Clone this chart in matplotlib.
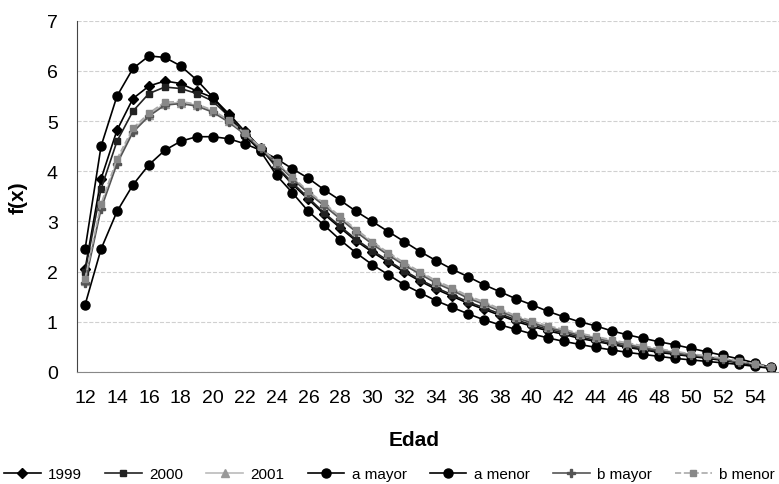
import matplotlib
matplotlib.use("Agg")
import matplotlib.pyplot as plt

plt.rcParams['font.family'] = ['Liberation Sans', 'DejaVu Sans']

edad = list(range(12, 56))
tick_labels = [str(e) for e in range(12, 56, 2)]

y1999 = [2.05, 3.85, 4.82, 5.45, 5.70, 5.80, 5.75, 5.60, 5.47, 5.15, 4.80, 4.47,
         4.08, 3.74, 3.44, 3.14, 2.87, 2.61, 2.39, 2.19, 1.99, 1.81, 1.65, 1.51,
         1.37, 1.25, 1.13, 1.01, 0.91, 0.82, 0.75, 0.67, 0.61, 0.55, 0.49, 0.44,
         0.39, 0.35, 0.31, 0.27, 0.23, 0.18, 0.13, 0.08]
y2000 = [2.00, 3.65, 4.60, 5.20, 5.55, 5.68, 5.65, 5.55, 5.40, 5.10, 4.78, 4.45,
         4.10, 3.77, 3.47, 3.17, 2.90, 2.64, 2.42, 2.22, 2.02, 1.84, 1.68, 1.54,
         1.40, 1.28, 1.16, 1.04, 0.94, 0.85, 0.78, 0.70, 0.63, 0.57, 0.51, 0.46,
         0.41, 0.37, 0.33, 0.29, 0.25, 0.20, 0.14, 0.08]
y2001 = [1.82, 3.30, 4.20, 4.82, 5.13, 5.35, 5.37, 5.32, 5.20, 5.00, 4.75, 4.47,
         4.17, 3.87, 3.58, 3.34, 3.08, 2.82, 2.58, 2.36, 2.16, 1.98, 1.80, 1.66,
         1.50, 1.38, 1.24, 1.10, 1.00, 0.90, 0.83, 0.75, 0.69, 0.62, 0.56, 0.50,
         0.44, 0.40, 0.35, 0.31, 0.26, 0.21, 0.16, 0.09]
a_mayor = [2.45, 4.50, 5.50, 6.05, 6.30, 6.27, 6.10, 5.82, 5.48, 5.10, 4.72, 4.40,
           3.92, 3.57, 3.20, 2.92, 2.63, 2.37, 2.14, 1.94, 1.74, 1.58, 1.42, 1.29,
           1.16, 1.04, 0.94, 0.85, 0.76, 0.68, 0.61, 0.55, 0.49, 0.44, 0.39, 0.35,
           0.31, 0.27, 0.24, 0.21, 0.18, 0.15, 0.11, 0.07]
a_menor = [1.34, 2.45, 3.20, 3.73, 4.13, 4.42, 4.60, 4.69, 4.69, 4.65, 4.55, 4.42,
           4.25, 4.05, 3.86, 3.63, 3.42, 3.20, 3.00, 2.80, 2.60, 2.40, 2.22, 2.05,
           1.90, 1.74, 1.60, 1.46, 1.34, 1.21, 1.10, 1.00, 0.92, 0.82, 0.74, 0.67,
           0.60, 0.54, 0.47, 0.40, 0.33, 0.26, 0.18, 0.09]
b_mayor = [1.78, 3.25, 4.15, 4.78, 5.10, 5.32, 5.35, 5.30, 5.18, 4.98, 4.74, 4.46,
           4.16, 3.85, 3.56, 3.31, 3.05, 2.79, 2.55, 2.33, 2.13, 1.95, 1.77, 1.63,
           1.47, 1.35, 1.21, 1.08, 0.98, 0.88, 0.81, 0.73, 0.67, 0.60, 0.54, 0.48,
           0.43, 0.38, 0.34, 0.30, 0.25, 0.20, 0.15, 0.09]
b_menor = [1.86, 3.35, 4.25, 4.86, 5.16, 5.38, 5.39, 5.34, 5.22, 5.02, 4.76, 4.48,
           4.18, 3.89, 3.60, 3.36, 3.10, 2.84, 2.60, 2.38, 2.18, 2.00, 1.82, 1.68,
           1.52, 1.40, 1.26, 1.12, 1.02, 0.92, 0.85, 0.77, 0.71, 0.64, 0.58, 0.52,
           0.46, 0.41, 0.36, 0.32, 0.27, 0.22, 0.16, 0.10]

fig = plt.figure(figsize=(7.79, 4.85), dpi=100)
ax = fig.add_axes([0.099, 0.231, 0.901, 0.724])

x = list(range(len(edad)))
ax.plot(x, y1999, color='black', lw=1.2, marker='D', ms=5, label='1999')
ax.plot(x, y2000, color='#222222', lw=1.2, marker='s', ms=5, label='2000')
ax.plot(x, y2001, color='#bbbbbb', lw=1.2, marker='^', ms=6, mfc='#999999', mec='#999999', label='2001')
ax.plot(x, a_mayor, color='black', lw=1.2, marker='o', ms=6.5, label='a mayor')
ax.plot(x, a_menor, color='black', lw=1.2, marker='o', ms=6.5, label='a menor')
ax.plot(x, b_mayor, color='#555555', lw=1.2, marker='P', ms=6, label='b mayor')
ax.plot(x, b_menor, color='#aaaaaa', lw=1.2, ls='--', marker='s', ms=5, mfc='#888888', mec='#888888', label='b menor')

ax.set_xlim(-0.5, len(edad) - 0.5)
ax.set_ylim(0, 7)
ax.set_xticks(x[::2])
ax.set_xticklabels(tick_labels, fontsize=14)
ax.set_yticks(range(0, 8))
ax.tick_params(axis='y', labelsize=14, length=0, pad=14)
ax.tick_params(axis='x', length=0, pad=12)
ax.grid(axis='y', color='#d0d0d0', ls='--', lw=0.8)
for s in ['top', 'right']:
    ax.spines[s].set_visible(False)
ax.spines['left'].set_color('#444444')
ax.spines['bottom'].set_color('#888888')

ax.set_xlabel('Edad', fontsize=15, fontweight='bold')
ax.xaxis.set_label_coords(0.48, -0.165)
ax.set_ylabel('f(x)', fontsize=15, fontweight='bold', labelpad=14)

fig.legend(loc='lower center', bbox_to_anchor=(0.5, -0.022), ncol=7, frameon=False,
           fontsize=11, handlelength=2.4, columnspacing=1.5, handletextpad=0.5)

fig.savefig('out.png', dpi=100)
